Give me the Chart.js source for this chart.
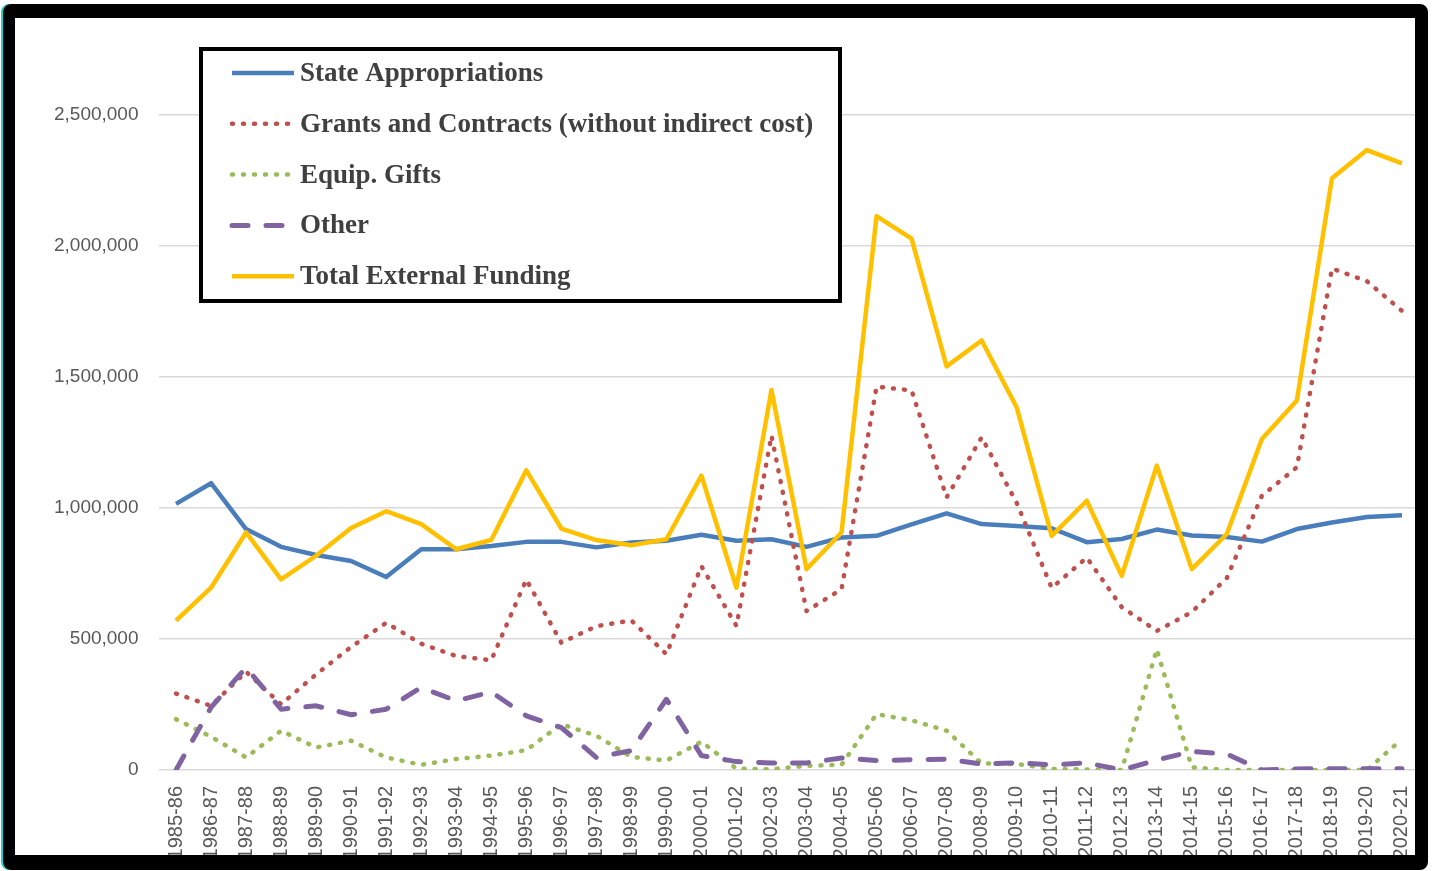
<!DOCTYPE html>
<html>
<head>
<meta charset="utf-8">
<script src="https://cdn.jsdelivr.net/npm/chart.js@4.4.0/dist/chart.umd.min.js"></script>
<style>
  html, body { margin: 0; padding: 0; background: #fff; overflow: hidden; }
  #wrap { position: absolute; left: 0; top: 0; width: 1434px; height: 871px; }
  #frame {
    position: absolute; left: 3px; top: 4px; width: 1425px; height: 866px;
    box-sizing: border-box; border-style: solid; border-color: #000;
    border-width: 14px 13px 15px 12px; border-radius: 8px;
    box-shadow: -2px 0 0 #19d3d3; pointer-events: none;
  }
</style>
</head>
<body>
<div id="wrap"><canvas id="chart"></canvas></div>
<div id="frame"></div>
<script>
const years = ['1985-86','1986-87','1987-88','1988-89','1989-90','1990-91','1991-92','1992-93',
  '1993-94','1994-95','1995-96','1996-97','1997-98','1998-99','1999-00','2000-01','2001-02',
  '2002-03','2003-04','2004-05','2005-06','2006-07','2007-08','2008-09','2009-10','2010-11',
  '2011-12','2012-13','2013-14','2014-15','2015-16','2016-17','2017-18','2018-19','2019-20','2020-21'];

const stateAppropriations = [1016000,1095000,920000,852000,821000,798000,737000,843000,
  843000,855000,871000,871000,850000,869000,875000,898000,875000,
  881000,852000,888000,894000,938000,980000,939000,932000,923000,
  870000,882000,918000,895000,890000,872000,920000,945000,966000,973000];

const grantsContracts = [292000,245000,375000,251000,365000,470000,562000,482000,
  435000,419000,727000,486000,549000,571000,442000,778000,550000,
  1277000,607000,690000,1464000,1449000,1041000,1270000,1020000,695000,
  811000,622000,531000,603000,733000,1047000,1156000,1915000,1866000,1753000];

const equipGifts = [194000,127000,48000,150000,86000,112000,48000,20000,
  42000,55000,76000,175000,131000,50000,36000,108000,5000,
  3000,16000,20000,213000,190000,150000,25000,23000,4000,
  2000,0,461000,10000,0,0,0,0,0,118000];

const other = [0,239000,391000,232000,245000,211000,232000,315000,
  264000,298000,207000,162000,48000,74000,270000,55000,32000,
  27000,27000,46000,36000,39000,41000,23000,27000,20000,
  27000,0,38000,71000,61000,0,4000,5000,5000,5000];

const totalExternal = [570000,696000,907000,728000,818000,924000,988000,939000,
  843000,878000,1144000,922000,878000,858000,881000,1124000,696000,
  1451000,767000,907000,2115000,2029000,1541000,1640000,1385000,894000,
  1028000,741000,1162000,767000,901000,1264000,1411000,2259000,2367000,2316000];

const yTicks = [0, 500000, 1000000, 1500000, 2000000, 2500000];

// legend drawn as a boxed panel inside the plot
const legendBox = {
  id: 'legendBox',
  afterDatasetsDraw(chart) {
    const ctx = chart.ctx;
    ctx.save();
    ctx.fillStyle = '#fff';
    ctx.fillRect(201, 49, 639, 252);
    ctx.lineWidth = 4;
    ctx.strokeStyle = '#000';
    ctx.strokeRect(201, 49, 639, 252);
    chart.data.datasets.forEach((ds, i) => {
      const y = 73 + i * 50.8;
      ctx.beginPath();
      ctx.setLineDash(ds.borderDash || []);
      ctx.lineCap = ds.borderCapStyle || 'butt';
      ctx.lineWidth = ds.borderWidth;
      ctx.strokeStyle = ds.borderColor;
      ctx.moveTo(232, y);
      ctx.lineTo(294, y);
      ctx.stroke();
      ctx.setLineDash([]);
      ctx.fillStyle = '#404040';
      ctx.font = 'bold 27px "Liberation Serif"';
      ctx.textBaseline = 'middle';
      ctx.fillText(ds.label, 300, y + 1);
    });
    ctx.restore();
  }
};

new Chart(document.getElementById('chart'), {
  type: 'line',
  data: {
    labels: years,
    datasets: [
      { label: 'State Appropriations', data: stateAppropriations, borderColor: '#4a7ebb',
        borderWidth: 4.5, order: 4 },
      { label: 'Grants and Contracts (without indirect cost)', data: grantsContracts,
        borderColor: '#c0504d', borderWidth: 4.5, borderDash: [1, 10], borderCapStyle: 'round', order: 3 },
      { label: 'Equip. Gifts', data: equipGifts, borderColor: '#9bbb59',
        borderWidth: 4.5, borderDash: [1, 10], borderCapStyle: 'round', order: 2 },
      { label: 'Other', data: other, borderColor: '#8064a2',
        borderWidth: 5, borderDash: [16, 18], borderCapStyle: 'round', order: 1 },
      { label: 'Total External Funding', data: totalExternal, borderColor: '#ffc000',
        borderWidth: 4.5, order: 0 }
    ]
  },
  options: {
    responsive: true,
    maintainAspectRatio: false,
    animation: false,
    layout: { autoPadding: false, padding: { top: 22, right: 2, left: 0, bottom: 0 } },
    elements: { point: { radius: 0 }, line: { tension: 0, borderJoinStyle: 'round' } },
    plugins: { legend: { display: false }, tooltip: { enabled: false } },
    scales: {
      x: {
        offset: true,
        grid: { display: false },
        border: { display: false },
        afterFit: (s) => { s.height = 101; },
        ticks: {
          autoSkip: false, minRotation: 90, maxRotation: 90, padding: 8,
          color: '#595959', font: { family: 'Liberation Sans', size: 20 }
        }
      },
      y: {
        min: 0,
        max: 2820000,
        afterFit: (s) => { s.width = 158.5; },
        afterBuildTicks: (axis) => { axis.ticks = yTicks.map(v => ({ value: v })); },
        grid: { color: '#d9d9d9', lineWidth: 1.5, drawTicks: false },
        border: { display: false },
        ticks: {
          padding: 20, color: '#595959', font: { family: 'Liberation Sans', size: 19 },
          callback: (v) => v.toLocaleString('en-US')
        }
      }
    }
  },
  plugins: [legendBox]
});
</script>
</body>
</html>
